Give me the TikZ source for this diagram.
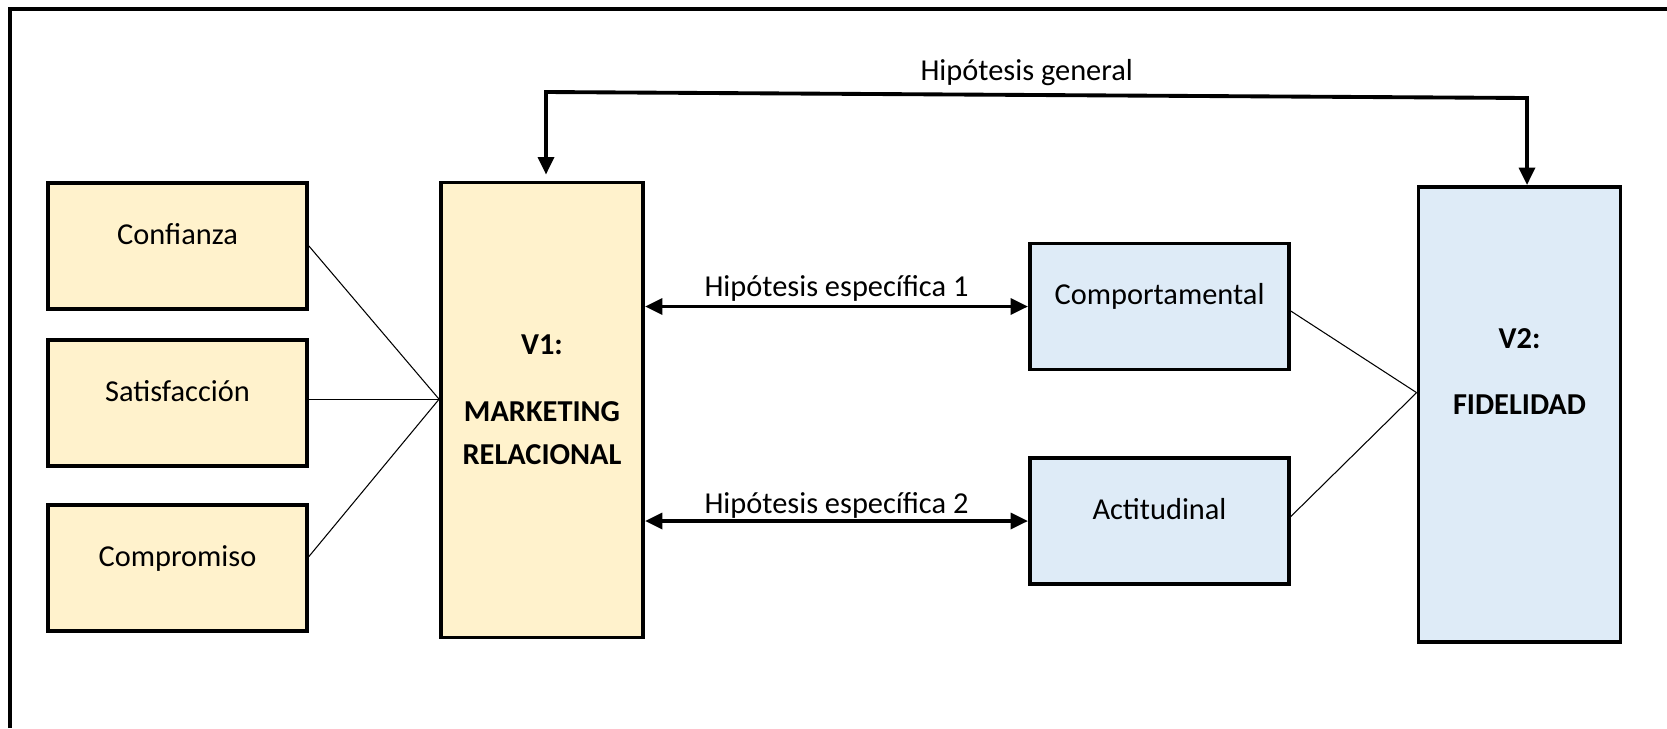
\documentclass[tikz,border=0pt]{standalone}
\usepackage{fontspec}
\setmainfont{Carlito}
\usepackage{tikz}
\usetikzlibrary{arrows.meta}
\definecolor{dimyellow}{HTML}{FFF2CC}
\definecolor{dimblue}{HTML}{DEEBF7}

\begin{document}
\begin{tikzpicture}[x=0.02cm,y=-0.02cm]
\tikzset{dimbox/.style=
            {draw, line width=2.2pt, inner sep=0pt,
                minimum width=5.18cm, minimum height=2.52cm, text height=12pt, text depth=14pt,
                font=\fontsize{17.3}{20}\selectfont},
         varbox/.style={draw, line width=2.2pt, inner sep=0pt, minimum width=4.04cm, minimum height=9.1cm},
         vartext/.style={align=center, font=\fontsize{17.3}{24.5}\selectfont\bfseries},
         hyplabel/.style={font=\fontsize{17.3}{20}\selectfont},
         hyps/.style={line width=2.2pt, {Triangle[length=10pt,width=9pt]}-{Triangle[length=10pt,width=9pt]}},
         link/.style={line width=0.6pt}}

\useasboundingbox (0,0) rectangle (1667,728);
\draw[line width=2.2pt] (10,728) -- (10,9) -- (1667,9);

\node[dimbox, fill=dimyellow] (conf) at (177.5,246) {Confianza};
\node[dimbox, fill=dimyellow] (sat) at (177.5,403) {Satisfacción};
\node[dimbox, fill=dimyellow] (comp) at (177.5,568) {Compromiso};
\node[varbox, fill=dimyellow] (v1) at (542,410) {};
\node[vartext] (v1txt) at ([yshift=0.2cm]v1.center) {V1:\\[13.6pt]MARKETING\\RELACIONAL};

\node[dimbox, fill=dimblue] (comport) at (1159.5,306.5) {Comportamental};
\node[dimbox, fill=dimblue] (actit) at (1159.5,521) {Actitudinal};
\node[varbox, fill=dimblue] (v2) at (1519.5,414.5) {};
\node[vartext] (v2txt) at ([yshift=0.86cm]v2.center) {V2:\\[13.6pt]FIDELIDAD};

\draw[link] (conf.east) -- (v1.174);
\draw[link] (v1.174 -| sat.east) -- (v1.174);
\draw[link] (comp.5) -- (v1.174);
\draw[link] (comport.-2) -- (v2.168);
\draw[link] (actit.2) -- (v2.168);

\draw[hyps] (comport.west -| v1.east) -- node[hyplabel, yshift=0.37cm] (he1) {Hipótesis específica 1} (comport.west);
\draw[hyps] (actit.west -| v1.east) -- node[hyplabel, yshift=0.32cm] (he2) {Hipótesis específica 2} (actit.west);

\coordinate (hgl) at (546,92);
\coordinate (hgr) at (1527,98);
\draw[hyps, shorten <=0.12cm] (hgl |- v1.north) -- (hgl) -- node[hyplabel, pos=0.49, yshift=0.44cm] (hg) {Hipótesis general} (hgr) -- (hgr |- v2.north);

\end{tikzpicture}
\end{document}
